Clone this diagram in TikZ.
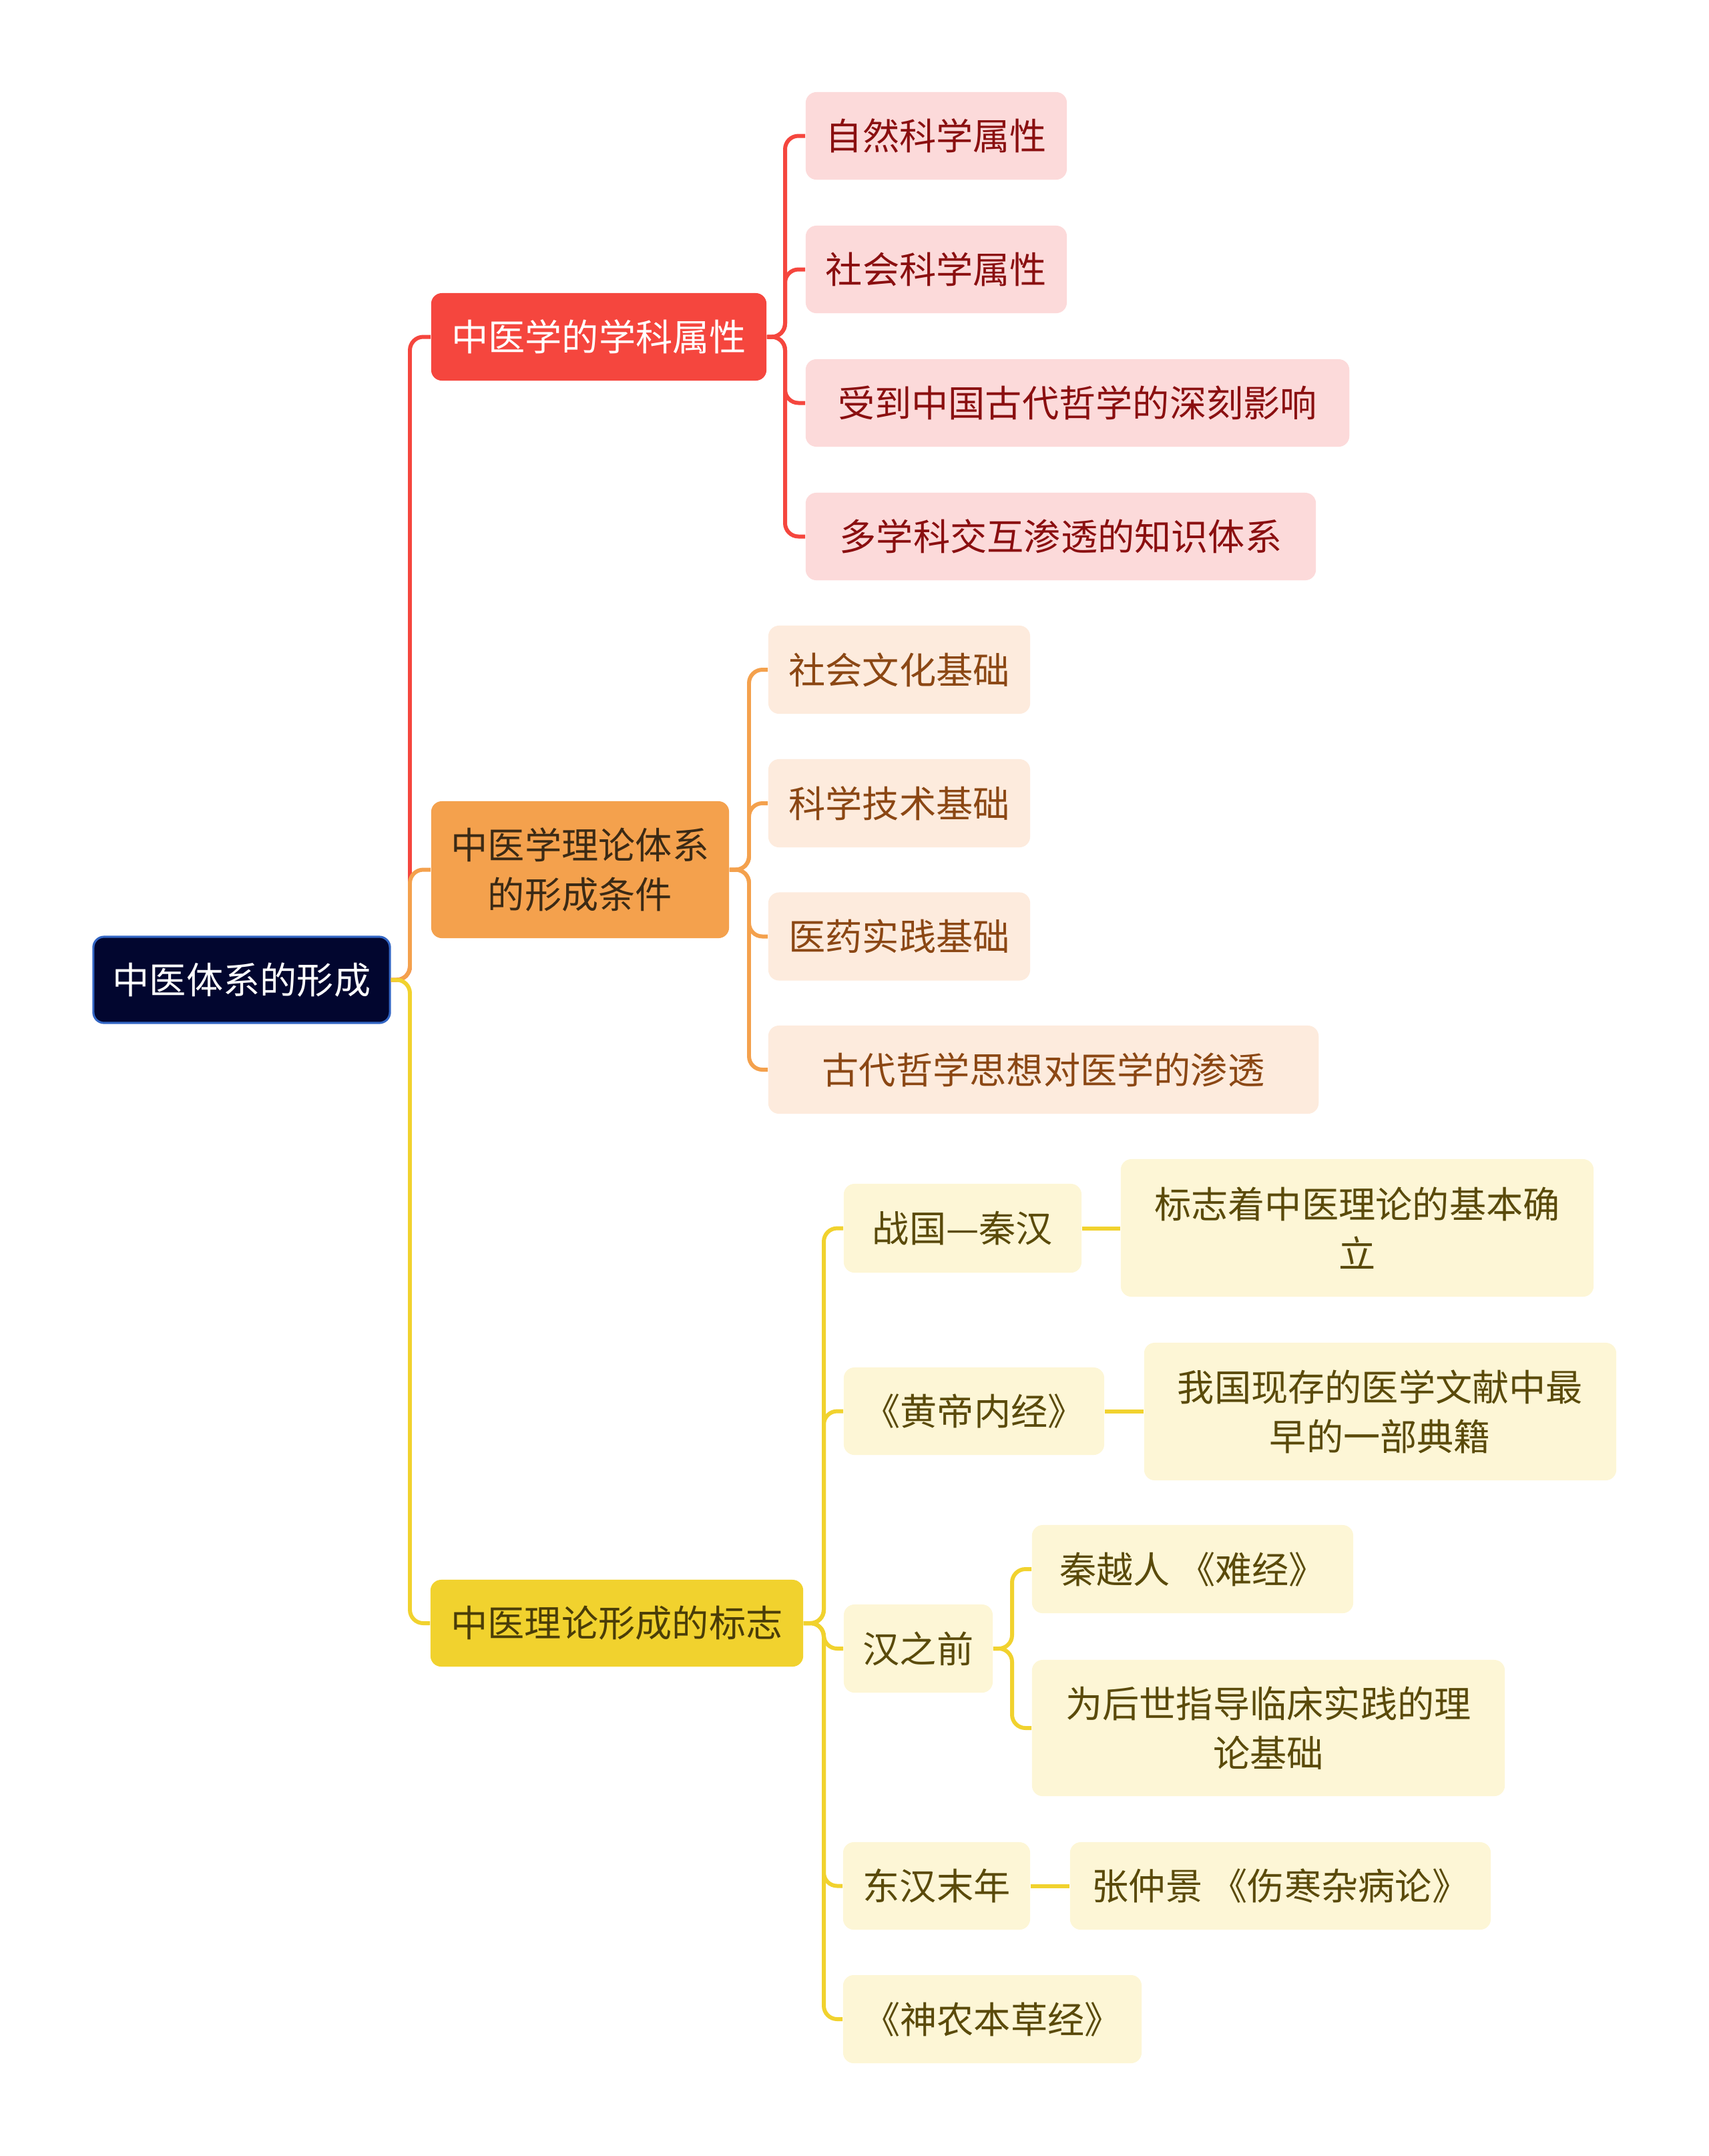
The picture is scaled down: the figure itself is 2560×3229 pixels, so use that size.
\documentclass[tikz,border=0pt]{standalone}
\usepackage{fontspec}
\newfontfamily\cjk{Noto Sans CJK SC}
\definecolor{rootfill}{HTML}{02062F}
\definecolor{rootline}{HTML}{3366C4}
\definecolor{redmain}{HTML}{F5463E}
\definecolor{orgmain}{HTML}{F4A14D}
\definecolor{yelmain}{HTML}{F1D22E}
\definecolor{redsub}{HTML}{FCDADA}
\definecolor{orgsub}{HTML}{FDEBDD}
\definecolor{yelsub}{HTML}{FDF6D6}
\definecolor{redtxt}{HTML}{8A0F10}
\definecolor{orgtxt}{HTML}{8B4714}
\definecolor{yeltxt}{HTML}{5A4A0A}
\definecolor{orgLtxt}{HTML}{3B2A15}
\definecolor{yelLtxt}{HTML}{4A3D08}
\tikzset{
  base/.style={rectangle, rounded corners=0.16cm, inner sep=0pt, align=center,
    font=\cjk\fontsize{15.7}{21}\selectfont},
  rootbox/.style={base, fill=rootfill, draw=rootline, line width=0.9pt, text=white},
  redL1/.style={base, fill=redmain, text=white},
  orgL1/.style={base, fill=orgmain, text=orgLtxt},
  yelL1/.style={base, fill=yelmain, text=yelLtxt},
  redbox/.style={base, fill=redsub, text=redtxt},
  orgbox/.style={base, fill=orgsub, text=orgtxt},
  yelbox/.style={base, fill=yelsub, text=yeltxt},
  link/.style={line width=1.7pt, rounded corners=0.2cm},
  redlink/.style={link, draw=redmain},
  orglink/.style={link, draw=orgmain},
  yellink/.style={link, draw=yelmain},
}
\begin{document}
\begin{tikzpicture}[x=0.01cm, y=-0.01cm]
\useasboundingbox (0,0) rectangle (2560,3229);
% level 0 and 1
\node[rootbox, minimum width=4.44cm, minimum height=1.29cm] (root) at (362,1467.5) {中医体系的形成};
\node[redL1, minimum width=5.02cm, minimum height=1.31cm] (r) at (897,504.5) {中医学的学科属性};
\node[orgL1, minimum width=4.46cm, minimum height=2.05cm] (o) at (869,1302.5) {中医学理论体系\\的形成条件};
\node[yelL1, minimum width=5.58cm, minimum height=1.30cm] (y) at (924,2431) {中医理论形成的标志};
% red children
\node[redbox, minimum width=3.91cm, minimum height=1.31cm] (r1) at (1402.5,203.5) {自然科学属性};
\node[redbox, minimum width=3.91cm, minimum height=1.31cm] (r2) at (1402.5,403.5) {社会科学属性};
\node[redbox, minimum width=8.14cm, minimum height=1.31cm] (r3) at (1614,603.5) {受到中国古代哲学的深刻影响};
\node[redbox, minimum width=7.64cm, minimum height=1.31cm] (r4) at (1589,803.5) {多学科交互渗透的知识体系};
% orange children
\node[orgbox, minimum width=3.92cm, minimum height=1.32cm] (o1) at (1347,1003) {社会文化基础};
\node[orgbox, minimum width=3.92cm, minimum height=1.32cm] (o2) at (1347,1203) {科学技术基础};
\node[orgbox, minimum width=3.92cm, minimum height=1.32cm] (o3) at (1347,1402.5) {医药实践基础};
\node[orgbox, minimum width=8.24cm, minimum height=1.32cm] (o4) at (1563,1602) {古代哲学思想对医学的渗透};
% yellow children
\node[yelbox, minimum width=3.56cm, minimum height=1.33cm] (y1) at (1442,1839.5) {战国—秦汉};
\node[yelbox, minimum width=7.08cm, minimum height=2.06cm] (y1a) at (2033,1839) {标志着中医理论的基本确\\立};
\node[yelbox, minimum width=3.90cm, minimum height=1.31cm] (y2) at (1459,2113.5) {《黄帝内经》};
\node[yelbox, minimum width=7.07cm, minimum height=2.06cm] (y2a) at (2067.5,2114) {我国现存的医学文献中最\\早的一部典籍};
\node[yelbox, minimum width=2.23cm, minimum height=1.32cm] (y3) at (1375.5,2469) {汉之前};
\node[yelbox, minimum width=4.81cm, minimum height=1.32cm] (y3a) at (1786.5,2350) {秦越人 《难经》};
\node[yelbox, minimum width=7.08cm, minimum height=2.04cm] (y3b) at (1900,2588) {为后世指导临床实践的理\\论基础};
\node[yelbox, minimum width=2.80cm, minimum height=1.31cm] (y4) at (1403,2824.5) {东汉末年};
\node[yelbox, minimum width=6.30cm, minimum height=1.31cm] (y4a) at (1918,2824.5) {张仲景 《伤寒杂病论》};
\node[yelbox, minimum width=4.47cm, minimum height=1.32cm] (y5) at (1486.5,3024) {《神农本草经》};
% main connectors
\draw[redlink] (root.east) -- (614,1467.5) |- (r.west);
\draw[orglink] (root.east) -- (614,1467.5) |- (o.west);
\draw[yellink] (root.east) -- (614,1467.5) |- (y.west);
% red sub connectors
\foreach \c in {r1,r2,r3,r4} \draw[redlink] (r.east) -- (1176,504.5) |- (\c.west);
% orange sub connectors
\foreach \c in {o1,o2,o3,o4} \draw[orglink] (o.east) -- (1122,1302.5) |- (\c.west);
% yellow sub connectors
\foreach \c in {y1,y2,y3,y4,y5} \draw[yellink] (y.east) -- (1234,2431) |- (\c.west);
\foreach \c in {y3a,y3b} \draw[yellink] (y3.east) -- (1516,2469) |- (\c.west);
\draw[yellink] (y1.east) -- (y1a.west |- y1.east);
\draw[yellink] (y2.east) -- (y2a.west |- y2.east);
\draw[yellink] (y4.east) -- (y4a.west);
\end{tikzpicture}
\end{document}
